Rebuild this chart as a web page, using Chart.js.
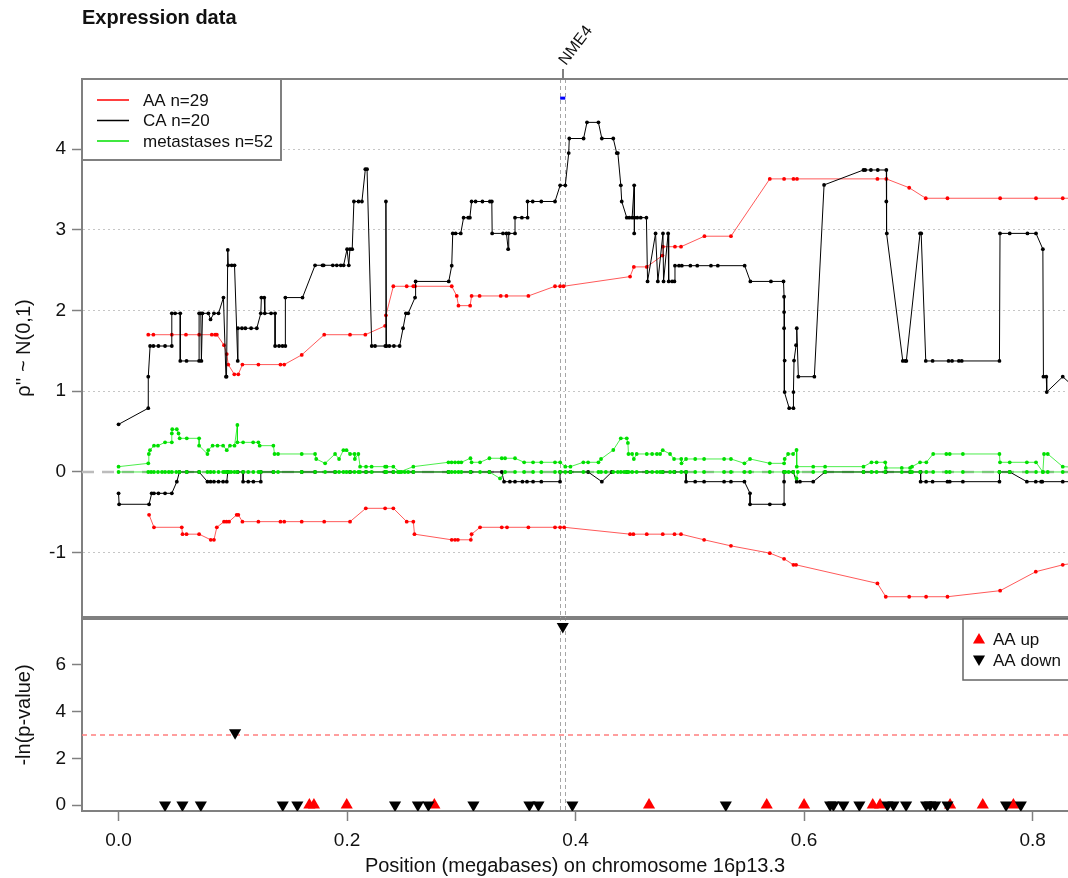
<!DOCTYPE html>
<html>
<head>
<meta charset="utf-8">
<script src="https://cdn.jsdelivr.net/npm/chart.js@4/dist/chart.umd.min.js"></script>
<style>
  body { margin: 0; background: #fff; }
  #wrap { position: relative; width: 1068px; height: 878px; overflow: hidden; }
  canvas { position: absolute; left: 0; }
  #top { top: 0; }
  #bot { top: 600px; }
</style>
</head>
<body>
<div id="wrap">
  <canvas id="top" width="1068" height="640"></canvas>
  <canvas id="bot" width="1068" height="278"></canvas>
</div>
<script>
// axis setup
const X_MIN = -0.032, X_MAX = 0.831;
const X_TICKS = [0, 0.2, 0.4, 0.6, 0.8];
const TOP_Y_MIN = -1.796, TOP_Y_MAX = 4.867;
const TOP_Y_TICKS = [-1, 0, 1, 2, 3, 4];
const BOT_Y_MIN = -0.257, BOT_Y_MAX = 7.97;
const BOT_Y_TICKS = [0, 2, 4, 6];

// gene marker
const GENE_NAME = 'NME4';
const GENE_START = 0.3865, GENE_END = 0.391, GENE_Y = 4.63;
const P_THRESHOLD = 3;

const TOP_LEGEND = ['AA n=29', 'CA n=20', 'metastases n=52'];
const BOT_LEGEND = ['AA up', 'AA down'];

// AA (red), upper and lower traces  [position, value]
const AA_POS = [
  [0.026,1.70],[0.0305,1.70],[0.0466,1.70],[0.059,1.70],[0.0705,1.70],[0.0816,1.70],[0.0845,1.70],[0.086,1.70],
  [0.0923,1.57],[0.0947,1.46],[0.096,1.33],[0.1013,1.21],[0.1048,1.21],[0.1084,1.33],[0.1224,1.33],[0.1417,1.33],[0.145,1.33],
  [0.1603,1.45],[0.180,1.70],[0.2026,1.70],[0.216,1.70],[0.2333,1.81],[0.234,1.94],[0.2405,2.30],[0.2522,2.30],[0.258,2.30],
  [0.2595,2.30],[0.2916,2.30],[0.296,2.18],[0.2975,2.06],[0.3077,2.06],[0.309,2.18],[0.316,2.18],[0.3345,2.18],[0.3395,2.18],
  [0.3587,2.18],[0.382,2.30],[0.3865,2.30],[0.3895,2.30],[0.4477,2.42],[0.451,2.54],[0.4623,2.54],[0.476,2.68],[0.4765,2.79],
  [0.487,2.79],[0.4923,2.79],[0.5128,2.92],[0.536,2.92],[0.570,3.63],[0.5825,3.63],[0.5907,3.63],[0.5938,3.63],[0.6642,3.63],
  [0.672,3.63],[0.692,3.52],[0.7065,3.39],[0.7255,3.39],[0.7716,3.39],[0.803,3.39],[0.8264,3.39],[0.85,3.39]
];
const AA_NEG = [
  [0.0267,-0.53],[0.031,-0.685],[0.0553,-0.685],[0.056,-0.77],[0.0595,-0.77],[0.0705,-0.77],[0.0807,-0.84],[0.0835,-0.84],
  [0.086,-0.685],[0.0923,-0.615],[0.0945,-0.615],[0.0967,-0.615],[0.1034,-0.53],[0.1048,-0.53],[0.1084,-0.615],[0.1224,-0.615],
  [0.1417,-0.615],[0.145,-0.615],[0.1603,-0.615],[0.180,-0.615],[0.2026,-0.615],[0.2164,-0.45],[0.2333,-0.45],[0.2405,-0.45],
  [0.2522,-0.615],[0.258,-0.615],[0.259,-0.77],[0.2916,-0.84],[0.2945,-0.84],[0.297,-0.84],[0.3083,-0.84],[0.309,-0.77],
  [0.3164,-0.685],[0.3354,-0.685],[0.34,-0.685],[0.3587,-0.685],[0.382,-0.685],[0.3865,-0.685],[0.39,-0.685],[0.4477,-0.77],
  [0.4506,-0.77],[0.4623,-0.77],[0.4763,-0.77],[0.4866,-0.77],[0.4923,-0.77],[0.5125,-0.84],[0.536,-0.915],[0.570,-1.005],
  [0.5825,-1.075],[0.5907,-1.15],[0.593,-1.15],[0.6642,-1.38],[0.6715,-1.545],[0.692,-1.545],[0.7068,-1.545],[0.7255,-1.545],
  [0.7716,-1.47],[0.8028,-1.235],[0.8264,-1.15],[0.85,-1.1]
];

// CA (black)
const CA_POS = [
  [0.0,0.59],[0.026,0.79],[0.026,1.18],[0.0276,1.56],[0.0305,1.56],[0.0349,1.56],[0.0407,1.56],[0.0466,1.56],
  [0.0466,1.965],[0.0495,1.965],[0.054,1.965],[0.054,1.375],[0.0595,1.375],[0.0705,1.375],[0.0705,1.965],[0.072,1.965],
  [0.0725,1.375],[0.0735,1.965],[0.0786,1.965],[0.0805,1.89],[0.0835,1.965],[0.0875,1.965],[0.0918,2.16],[0.094,1.18],
  [0.0945,1.18],[0.0956,2.75],[0.096,2.56],[0.099,2.56],[0.1015,2.56],[0.1043,1.375],[0.1045,1.78],[0.108,1.78],[0.111,1.78],
  [0.116,1.78],[0.121,1.78],[0.1245,1.965],[0.125,2.16],[0.1275,2.16],[0.128,1.965],[0.1335,1.965],[0.137,1.965],[0.137,1.56],
  [0.1405,1.56],[0.1435,1.56],[0.146,1.56],[0.146,2.16],[0.161,2.16],[0.172,2.56],[0.1785,2.56],[0.1795,2.56],[0.1875,2.56],
  [0.191,2.56],[0.1945,2.56],[0.197,2.56],[0.2,2.76],[0.2015,2.56],[0.2025,2.76],[0.2045,2.76],[0.206,3.35],[0.21,3.35],
  [0.213,3.35],[0.216,3.75],[0.2175,3.75],[0.2216,1.56],[0.2245,1.56],[0.2335,1.56],[0.234,3.35],[0.2345,1.56],[0.237,1.56],
  [0.241,1.56],[0.246,1.56],[0.249,1.78],[0.2515,1.965],[0.2535,1.965],[0.2595,2.16],[0.26,2.36],[0.289,2.36],[0.2916,2.555],
  [0.2925,2.955],[0.295,2.955],[0.2995,2.955],[0.302,3.15],[0.306,3.15],[0.3075,3.15],[0.309,3.35],[0.3125,3.35],[0.3185,3.35],
  [0.325,3.35],[0.3267,3.35],[0.327,2.955],[0.3365,2.955],[0.3395,2.955],[0.341,2.76],[0.3415,2.955],[0.347,2.955],[0.347,3.15],
  [0.353,3.15],[0.358,3.15],[0.358,3.35],[0.3625,3.35],[0.37,3.35],[0.382,3.35],[0.3865,3.55],[0.391,3.55],[0.394,3.95],
  [0.3945,4.13],[0.407,4.13],[0.41,4.33],[0.42,4.33],[0.423,4.13],[0.433,4.13],[0.436,3.95],[0.437,3.95],[0.4396,3.55],
  [0.4404,3.35],[0.4448,3.15],[0.447,3.15],[0.4495,3.15],[0.4513,3.55],[0.4513,2.955],[0.4516,3.15],[0.454,3.15],[0.457,3.15],
  [0.462,3.15],[0.463,2.36],[0.470,2.955],[0.472,2.36],[0.4765,2.955],[0.477,2.36],[0.481,2.955],[0.4815,2.36],[0.4845,2.36],
  [0.4865,2.36],[0.487,2.555],[0.4905,2.555],[0.493,2.555],[0.5005,2.555],[0.5065,2.555],[0.5185,2.555],[0.5245,2.555],
  [0.548,2.555],[0.553,2.36],[0.571,2.36],[0.582,2.36],[0.5825,2.17],[0.5825,1.98],[0.5825,1.78],[0.583,1.38],[0.583,0.99],
  [0.587,0.79],[0.5907,0.79],[0.5907,0.99],[0.5912,1.38],[0.593,1.57],[0.5936,1.78],[0.595,1.18],[0.609,1.18],[0.6175,3.555],
  [0.652,3.74],[0.6535,3.74],[0.6585,3.74],[0.6645,3.74],[0.672,3.74],[0.672,3.35],[0.6724,2.955],[0.6864,1.375],[0.6885,1.375],
  [0.6895,1.375],[0.7015,2.955],[0.7025,2.955],[0.7065,1.375],[0.7125,1.375],[0.7265,1.375],[0.7295,1.375],[0.7355,1.375],
  [0.738,1.375],[0.771,1.375],[0.7715,2.955],[0.78,2.955],[0.7955,2.955],[0.803,2.955],[0.809,2.76],[0.8095,1.18],[0.812,1.18],
  [0.8124,0.99],[0.8264,1.18],[0.845,0.94]
];
const CA_NEG = [
  [0.0,-0.264],[0.0005,-0.40],[0.0267,-0.40],[0.029,-0.264],[0.031,-0.264],[0.0349,-0.264],[0.0407,-0.264],[0.0466,-0.264],
  [0.051,-0.12],[0.0533,0],[0.0597,0],[0.0705,0],[0.0778,-0.12],[0.0805,-0.12],[0.0835,-0.12],[0.0875,-0.12],[0.0915,-0.12],
  [0.0947,-0.12],[0.0956,0],[0.1043,0],[0.109,0],[0.109,-0.12],[0.1135,-0.12],[0.118,-0.12],[0.1245,-0.12],[0.1245,0],
  [0.1355,0],[0.1603,0],[0.172,0],[0.1895,0],[0.2026,0],[0.2166,0],[0.2333,0],[0.2405,0],[0.258,0],[0.2887,0],[0.3083,0],
  [0.3246,0],[0.3354,0],[0.3374,-0.12],[0.3425,-0.12],[0.347,-0.12],[0.3535,-0.12],[0.3575,-0.12],[0.3628,-0.12],[0.370,-0.12],
  [0.3864,-0.12],[0.3864,0],[0.3955,0],[0.411,0],[0.423,-0.12],[0.4317,0],[0.4448,0],[0.4623,0],[0.4763,0],[0.4866,0],
  [0.4967,0],[0.4967,-0.12],[0.5047,-0.12],[0.5125,-0.12],[0.530,-0.12],[0.536,-0.12],[0.5478,-0.12],[0.5527,-0.264],
  [0.5527,-0.40],[0.570,-0.40],[0.5825,-0.40],[0.5825,-0.12],[0.5825,0],[0.5905,0],[0.5935,-0.12],[0.5964,-0.12],[0.608,-0.12],
  [0.6184,0],[0.652,0],[0.6715,0],[0.6928,0],[0.702,0],[0.702,-0.12],[0.7068,-0.12],[0.7125,-0.12],[0.7255,-0.12],
  [0.7275,-0.12],[0.739,-0.12],[0.771,-0.12],[0.771,0],[0.780,0],[0.795,-0.12],[0.8028,-0.12],[0.8075,-0.12],[0.8085,-0.12],
  [0.8264,-0.12],[0.85,-0.12]
];

// metastases (green)
const MET_POS = [
  [0.0,0.066],[0.026,0.107],[0.0265,0.223],[0.0275,0.27],[0.031,0.326],[0.0345,0.326],[0.0407,0.367],[0.0466,0.367],
  [0.0466,0.478],[0.047,0.529],[0.051,0.529],[0.0525,0.478],[0.0535,0.417],[0.0597,0.417],[0.0705,0.417],[0.0705,0.326],
  [0.0778,0.223],[0.0785,0.27],[0.0823,0.326],[0.0866,0.326],[0.0915,0.326],[0.0947,0.27],[0.0975,0.326],[0.1015,0.326],
  [0.104,0.582],[0.104,0.367],[0.109,0.367],[0.1178,0.367],[0.1224,0.367],[0.1235,0.326],[0.1355,0.326],[0.1365,0.223],
  [0.1396,0.223],[0.1603,0.223],[0.172,0.223],[0.173,0.161],[0.1808,0.107],[0.1895,0.223],[0.193,0.161],[0.1968,0.27],
  [0.1995,0.27],[0.2026,0.223],[0.2065,0.223],[0.2068,0.161],[0.2099,0.223],[0.2114,0.066],[0.2166,0.066],[0.2215,0.066],
  [0.2333,0.066],[0.2345,0.066],[0.2405,0.066],[0.246,0.0],[0.258,0.066],[0.2887,0.12],[0.2915,0.12],[0.2945,0.12],
  [0.2975,0.12],[0.300,0.12],[0.308,0.17],[0.309,0.12],[0.3164,0.12],[0.3246,0.17],[0.3354,0.17],[0.3383,0.17],[0.347,0.17],
  [0.355,0.12],[0.3628,0.12],[0.370,0.12],[0.382,0.12],[0.3865,0.12],[0.391,0.066],[0.3955,0.066],[0.4068,0.12],[0.411,0.12],
  [0.42,0.12],[0.4223,0.161],[0.433,0.272],[0.4396,0.417],[0.4448,0.417],[0.4458,0.36],[0.4463,0.223],[0.4495,0.223],
  [0.451,0.161],[0.4535,0.223],[0.4623,0.223],[0.467,0.223],[0.4712,0.223],[0.474,0.223],[0.4763,0.27],[0.4827,0.223],
  [0.4862,0.161],[0.4925,0.161],[0.4927,0.107],[0.4967,0.161],[0.5047,0.161],[0.5125,0.161],[0.530,0.161],[0.536,0.161],
  [0.5478,0.107],[0.5527,0.161],[0.570,0.107],[0.5825,0.107],[0.583,0.161],[0.586,0.223],[0.5904,0.223],[0.5934,0.272],
  [0.5936,0.066],[0.608,0.066],[0.6184,0.066],[0.652,0.066],[0.659,0.12],[0.6635,0.12],[0.671,0.12],[0.6715,0.05],
  [0.6855,0.05],[0.6928,0.05],[0.6945,0.066],[0.7015,0.12],[0.707,0.12],[0.713,0.223],[0.7245,0.223],[0.7275,0.223],
  [0.739,0.223],[0.771,0.223],[0.7715,0.12],[0.780,0.12],[0.795,0.12],[0.803,0.12],[0.809,0.0],[0.810,0.223],[0.8133,0.223],
  [0.8264,0.066],[0.85,0.05]
];
const MET_NEG = [
  [0.0,0],[0.026,0],[0.0285,0],[0.031,0],[0.0345,0],[0.038,0],[0.0407,0],[0.044,0],[0.0466,0],[0.0505,0],[0.0533,0],
  [0.0597,0],[0.0705,0],[0.0778,0],[0.0805,0],[0.0835,0],[0.0875,0],[0.0915,0],[0.093,0],[0.0947,0],[0.0965,0],[0.0985,0],
  [0.1015,0],[0.104,0],[0.109,0],[0.1135,0],[0.118,0],[0.1224,0],[0.1245,0],[0.1355,0],[0.1396,0],[0.1603,0],[0.172,0],
  [0.1808,0],[0.1895,0],[0.193,0],[0.1968,0],[0.1995,0],[0.2026,0],[0.2065,0],[0.2099,0],[0.2114,0],[0.2166,0],[0.2215,0],
  [0.2333,0],[0.2345,0],[0.2405,0],[0.2445,0],[0.2475,0],[0.2505,0],[0.2535,0],[0.258,0],[0.2887,0],[0.2915,0],[0.2945,0],
  [0.2975,0],[0.300,0],[0.308,0],[0.3164,0],[0.3246,0],[0.3339,-0.08],[0.3383,0],[0.347,0],[0.355,0],[0.3628,0],[0.370,0],
  [0.382,0],[0.3865,0],[0.391,0],[0.3955,0],[0.4068,0],[0.42,0],[0.4223,0],[0.4265,0],[0.433,0],[0.437,0],[0.4396,0],
  [0.4425,0],[0.4448,0],[0.4463,0],[0.4495,0],[0.4535,0],[0.4623,0],[0.467,0],[0.4712,0],[0.474,0],[0.4763,0],[0.4827,0],
  [0.4862,0],[0.4925,0],[0.4967,0],[0.5047,0],[0.5125,0],[0.530,0],[0.536,0],[0.5478,0],[0.5527,0],[0.570,0],[0.5825,0],
  [0.5835,0],[0.5865,0],[0.5905,0],[0.5934,-0.08],[0.5945,0],[0.608,0],[0.6184,0],[0.652,0],[0.659,0],[0.6635,0],[0.671,0],
  [0.6855,0],[0.6928,0],[0.6945,0],[0.7015,0],[0.707,0],[0.713,0],[0.7245,0],[0.7275,0],[0.739,0],[0.771,0],[0.780,0],
  [0.795,0],[0.803,0],[0.809,0],[0.8133,0],[0.8264,0],[0.85,0]
];

// -ln(p-value) per probe
const UP_X = [0.167, 0.171, 0.1997, 0.2764, 0.4643, 0.5673, 0.600, 0.6601, 0.6665, 0.7278, 0.7564, 0.7832];
const UP_Y = [0, 0, 0, 0, 0, 0, 0, 0, 0, 0, 0, 0];
const DOWN_X = [0.0407, 0.0559, 0.072, 0.102, 0.1437, 0.1565, 0.242, 0.262, 0.2712, 0.3106, 0.3596, 0.3675, 0.3888, 0.3972,
  0.5315, 0.6228, 0.6257, 0.6344, 0.6484, 0.6729, 0.6782, 0.6893, 0.7068, 0.7103, 0.7147, 0.7255, 0.7768, 0.7897];
const DOWN_Y = [0, 0, 0, 3.1, 0, 0, 0, 0, 0, 0, 0, 0, 7.65, 0,
  0, 0, 0, 0, 0, 0, 0, 0, 0, 0, 0, 0, 0, 0];

const FONT = "'Liberation Sans', Arial, sans-serif";
const AXIS_GREY = '#808080';
Chart.defaults.font.family = FONT;
Chart.defaults.color = '#111';

function trace(pairs, pointColor, lineColor, order) {
    return {
        data: pairs.map(p => ({ x: p[0], y: p[1] })),
        showLine: true,
        borderColor: lineColor,
        borderWidth: 1,
        pointRadius: 1.9,
        pointHoverRadius: 1.9,
        pointBorderWidth: 0,
        pointBackgroundColor: pointColor,
        order: order
    };
}

function yAxis(min, max, ticks, title, gridColor) {
    return {
        type: 'linear', min: min, max: max,
        afterBuildTicks: s => { s.ticks = ticks.map(v => ({ value: v })); },
        afterFit: s => { s.width = 82; },
        ticks: { font: { size: 19 }, color: '#111', padding: 6, callback: v => String(v) },
        grid: { drawOnChartArea: !!gridColor, color: gridColor || 'rgba(0,0,0,0)', lineWidth: 1,
                tickColor: AXIS_GREY, tickLength: 10, tickWidth: 1.5 },
        border: { color: AXIS_GREY, width: 2, dash: [2, 3] },
        title: { display: true, text: title, font: { size: 20 }, color: '#111', padding: { top: 12, bottom: 0 } }
    };
}

function geneLines(ctx, x, top, bottom) {
    ctx.strokeStyle = '#a6a6a6';
    ctx.lineWidth = 1;
    ctx.setLineDash([4, 3]);
    [GENE_START, GENE_END].forEach(v => {
        const px = Math.round(x.getPixelForValue(v)) + 0.5;
        ctx.beginPath(); ctx.moveTo(px, top); ctx.lineTo(px, bottom); ctx.stroke();
    });
    ctx.setLineDash([]);
}

function hLine(ctx, x1, x2, y) {
    ctx.beginPath(); ctx.moveTo(x1, y); ctx.lineTo(x2, y); ctx.stroke();
}

function triangle(ctx, cx, cy, r, down) {
    const s = down ? -1 : 1;
    ctx.beginPath();
    ctx.moveTo(cx, cy - s * r);
    ctx.lineTo(cx + r * 0.866, cy + s * r / 2);
    ctx.lineTo(cx - r * 0.866, cy + s * r / 2);
    ctx.closePath();
    ctx.fill();
}

const topDecor = {
    id: 'topDecor',
    beforeDatasetsDraw(chart) {
        const { ctx, chartArea: a, scales: { x, y } } = chart;
        ctx.save();
        // zero reference
        ctx.strokeStyle = '#bcbcbc';
        ctx.lineWidth = 2.5;
        ctx.setLineDash([12, 8]);
        hLine(ctx, a.left, a.right, y.getPixelForValue(0));
        geneLines(ctx, x, a.top, a.bottom + 2);
        ctx.restore();
    },
    afterDraw(chart) {
        const { ctx, chartArea: a, scales: { x } } = chart;
        ctx.save();
        ctx.strokeStyle = AXIS_GREY;
        ctx.lineWidth = 2;
        hLine(ctx, a.left - 1, a.right, a.top);
        hLine(ctx, a.left - 1, a.right, a.bottom);

        // gene label above the frame
        const gx = Math.round(x.getPixelForValue((GENE_START + GENE_END) / 2));
        ctx.beginPath(); ctx.moveTo(gx, a.top - 10); ctx.lineTo(gx, a.top); ctx.stroke();
        ctx.save();
        ctx.translate(gx + 3, a.top - 13);
        ctx.rotate(-53 * Math.PI / 180);
        ctx.fillStyle = '#111';
        ctx.font = '16px ' + FONT;
        ctx.textBaseline = 'alphabetic';
        ctx.fillText(GENE_NAME, 0, 0);
        ctx.restore();

        // legend
        const colors = ['#ff0000', '#000000', '#00e000'];
        ctx.fillStyle = '#fff';
        ctx.fillRect(a.left, a.top, 199, 81);
        ctx.strokeStyle = AXIS_GREY;
        ctx.strokeRect(a.left, a.top, 199, 81);
        ctx.font = '17px ' + FONT;
        ctx.textBaseline = 'middle';
        TOP_LEGEND.forEach((t, i) => {
            const ly = a.top + 21 + i * 20.5;
            ctx.strokeStyle = colors[i];
            ctx.lineWidth = 1.5;
            hLine(ctx, a.left + 15, a.left + 47, ly);
            ctx.fillStyle = '#111';
            ctx.fillText(t, a.left + 61, ly + 1);
        });

        // title
        ctx.fillStyle = '#111';
        ctx.font = 'bold 20px ' + FONT;
        ctx.textBaseline = 'alphabetic';
        ctx.fillText('Expression data', a.left, 24);
        ctx.restore();
    }
};

const botDecor = {
    id: 'botDecor',
    beforeDatasetsDraw(chart) {
        const { ctx, chartArea: a, scales: { x, y } } = chart;
        ctx.save();
        ctx.strokeStyle = '#ff7f7f';
        ctx.lineWidth = 1.5;
        ctx.setLineDash([5, 4]);
        hLine(ctx, a.left, a.right, y.getPixelForValue(P_THRESHOLD));
        geneLines(ctx, x, a.top - 2, a.bottom);
        ctx.restore();
    },
    afterDraw(chart) {
        const { ctx, chartArea: a } = chart;
        ctx.save();
        ctx.strokeStyle = AXIS_GREY;
        ctx.lineWidth = 2;
        hLine(ctx, a.left - 1, a.right, a.top);

        // legend box, top right
        const lx = a.right - 105;
        ctx.fillStyle = '#fff';
        ctx.fillRect(lx, a.top, 110, 61);
        ctx.strokeStyle = '#666';
        ctx.lineWidth = 1.5;
        ctx.strokeRect(lx, a.top, 110, 61);
        ctx.font = '17px ' + FONT;
        ctx.textBaseline = 'middle';
        BOT_LEGEND.forEach((t, i) => {
            const ly = a.top + 20 + i * 21;
            ctx.fillStyle = i === 0 ? '#ff0000' : '#000';
            triangle(ctx, lx + 16, ly + (i === 0 ? 1 : -1), 7, i === 1);
            ctx.fillStyle = '#111';
            ctx.fillText(t, lx + 30, ly + 1);
        });
        ctx.restore();
    }
};

new Chart(document.getElementById('top'), {
    type: 'scatter',
    data: {
        datasets: [
            trace(AA_POS, '#ff0000', 'rgba(255,0,0,0.65)', 2),
            trace(AA_NEG, '#ff0000', 'rgba(255,0,0,0.65)', 2),
            trace(CA_POS, '#000000', '#000000', 1),
            trace(CA_NEG, '#000000', '#000000', 1),
            trace(MET_POS, '#00e000', 'rgba(0,230,0,0.7)', 0),
            trace(MET_NEG, '#00e000', 'rgba(0,230,0,0.7)', 0),
            {
                data: [{ x: GENE_START, y: GENE_Y }, { x: GENE_END, y: GENE_Y }],
                showLine: true, borderColor: '#0000ff', borderWidth: 3, pointRadius: 0, order: 0
            }
        ]
    },
    options: {
        responsive: false,
        animation: false,
        devicePixelRatio: 1,
        events: [],
        layout: { autoPadding: false, padding: { top: 79, bottom: 23, left: 0, right: 0 } },
        plugins: { legend: { display: false }, tooltip: { enabled: false } },
        scales: {
            x: { type: 'linear', min: X_MIN, max: X_MAX, display: false },
            y: yAxis(TOP_Y_MIN, TOP_Y_MAX, TOP_Y_TICKS, "ρ'' ~ N(0,1)",
                     c => (c.tick && c.tick.value === 0) ? 'rgba(0,0,0,0)' : '#c6c6c6')
        }
    },
    plugins: [topDecor]
});

new Chart(document.getElementById('bot'), {
    type: 'scatter',
    data: {
        datasets: [
            {
                data: UP_X.map((v, i) => ({ x: v, y: UP_Y[i] })),
                pointStyle: 'triangle', pointRadius: 7, pointHoverRadius: 7,
                pointBackgroundColor: '#ff0000', pointBorderWidth: 0, order: 1
            },
            {
                data: DOWN_X.map((v, i) => ({ x: v, y: DOWN_Y[i] })),
                pointStyle: 'triangle', pointRotation: 180, pointRadius: 7, pointHoverRadius: 7,
                pointBackgroundColor: '#000000', pointBorderWidth: 0, order: 0
            }
        ]
    },
    options: {
        responsive: false,
        animation: false,
        devicePixelRatio: 1,
        events: [],
        layout: { autoPadding: false, padding: { top: 19, bottom: 0, left: 0, right: 0 } },
        plugins: { legend: { display: false }, tooltip: { enabled: false } },
        scales: {
            x: {
                type: 'linear', min: X_MIN, max: X_MAX,
                afterBuildTicks: s => { s.ticks = X_TICKS.map(v => ({ value: v })); },
                afterFit: s => { s.height = 67; },
                ticks: { font: { size: 19 }, color: '#111', padding: 8, maxRotation: 0, callback: v => v.toFixed(1) },
                grid: { drawOnChartArea: false, tickColor: AXIS_GREY, tickLength: 10, tickWidth: 1.5 },
                border: { color: AXIS_GREY, width: 2 },
                title: { display: true, text: 'Position (megabases) on chromosome 16p13.3',
                         font: { size: 20 }, color: '#111', padding: { top: 0, bottom: 0 } }
            },
            y: yAxis(BOT_Y_MIN, BOT_Y_MAX, BOT_Y_TICKS, '-ln(p-value)', null)
        }
    },
    plugins: [botDecor]
});
</script>
</body>
</html>
